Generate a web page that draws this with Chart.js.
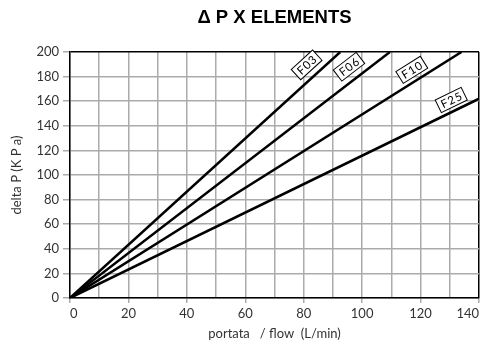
<!DOCTYPE html>
<html>
<head>
<meta charset="utf-8">
<script src="https://cdn.jsdelivr.net/npm/chart.js@4.4.0/dist/chart.umd.min.js"></script>
<style>
    html, body { margin: 0; padding: 0; background: #fff; }
</style>
</head>
<body>
<canvas id="dpChart" width="482" height="346"></canvas>
<script>
const seriesNames = ['F03', 'F06', 'F10', 'F25'];
const flowF03 = [0, 92.5];
const dpF03 = [0, 200];
const flowF06 = [0, 109.5];
const dpF06 = [0, 200];
const flowF10 = [0, 134];
const dpF10 = [0, 200];
const flowF25 = [0, 140];
const dpF25 = [0, 162];
const xTickLabels = [0, 20, 40, 60, 80, 100, 120, 140];
const yTickLabels = [0, 20, 40, 60, 80, 100, 120, 140, 160, 180, 200];

// Punti di ancoraggio delle etichette (in unità dei dati)
const labelFlow = [81, 95.5, 117, 130.5];
const labelDp = [189.5, 188, 185.5, 161];

const flows = [flowF03, flowF06, flowF10, flowF25];
const dps = [dpF03, dpF06, dpF10, dpF25];

function toPoints(xs, ys) {
    return xs.map((x, i) => ({ x: x, y: ys[i] }));
}

const FONT = "Lato, 'Open Sans', sans-serif";
const TEXT = '#333';
const GRID = '#ababab';

// Titolo centrato sull'area del grafico
const titlePlugin = {
    id: 'centerTitle',
    afterDraw(chart) {
        const { ctx, chartArea } = chart;
        ctx.save();
        ctx.font = "bold 18.5px 'Liberation Sans', Arial, sans-serif";
        ctx.fillStyle = '#000';
        ctx.textAlign = 'center';
        ctx.textBaseline = 'middle';
        ctx.fillText('Δ P X ELEMENTS', (chartArea.left + chartArea.right) / 2, 18);
        ctx.restore();
    }
};

// Etichette F03/F06/... in riquadri ruotati lungo le linee
const lineLabels = {
    id: 'lineLabels',
    afterDatasetsDraw(chart) {
        const { ctx } = chart;
        const xs = chart.scales.x, ys = chart.scales.y;
        ctx.save();
        ctx.font = '11.5px ' + FONT;
        if ('letterSpacing' in ctx) ctx.letterSpacing = '1px';
        seriesNames.forEach((name, i) => {
            const x0 = xs.getPixelForValue(flows[i][0]), y0 = ys.getPixelForValue(dps[i][0]);
            const x1 = xs.getPixelForValue(flows[i][1]), y1 = ys.getPixelForValue(dps[i][1]);
            const angle = Math.atan2(y1 - y0, x1 - x0);
            const cx = xs.getPixelForValue(labelFlow[i]);
            const cy = ys.getPixelForValue(labelDp[i]);
            const w = ctx.measureText(name).width + 6;
            const h = 14;
            ctx.save();
            ctx.translate(cx, cy);
            ctx.rotate(angle);
            ctx.fillStyle = '#fff';
            ctx.fillRect(-w / 2, -h / 2, w, h);
            ctx.strokeStyle = '#000';
            ctx.lineWidth = 1;
            ctx.strokeRect(-w / 2, -h / 2, w, h);
            ctx.fillStyle = '#000';
            ctx.textAlign = 'center';
            ctx.textBaseline = 'middle';
            ctx.fillText(name, 0.5, 0.5);
            ctx.restore();
        });
        ctx.restore();
    }
};

const ctx = document.getElementById('dpChart').getContext('2d');
const chart = new Chart(ctx, {
    type: 'scatter',
    data: {
        datasets: seriesNames.map((name, i) => ({
            label: name,
            data: toPoints(flows[i], dps[i]),
            showLine: true,
            borderColor: '#000',
            borderWidth: 2.5,
            pointRadius: 0,
            fill: false
        }))
    },
    options: {
        responsive: false,
        animation: false,
        layout: { padding: { top: 52, right: 2, left: 0, bottom: 0 } },
        plugins: {
            legend: { display: false },
            tooltip: { enabled: false },
            title: { display: false }
        },
        scales: {
            x: {
                type: 'linear',
                min: 0,
                max: 140,
                afterFit: scale => { scale.height = 48; },
                ticks: {
                    stepSize: 10,
                    align: 'inner',
                    padding: 3,
                    color: TEXT,
                    font: { family: FONT, size: 13 },
                    maxRotation: 0,
                    callback: v => xTickLabels.includes(v) ? String(v) : ''
                },
                grid: {
                    color: c => c.tick && c.tick.value === 140 ? '#000' : GRID,
                    lineWidth: 1.5,
                    tickLength: 5,
                    tickColor: c => c.tick && xTickLabels.includes(c.tick.value) ? GRID : 'rgba(0,0,0,0)'
                },
                border: { display: true, color: '#000', width: 1.5 },
                title: {
                    display: true,
                    text: 'portata   / flow  (L/min)',
                    color: TEXT,
                    font: { family: FONT, size: 13 },
                    padding: { top: 0, bottom: 4 }
                }
            },
            y: {
                min: 0,
                max: 200,
                afterFit: scale => { scale.width = 70; },
                ticks: {
                    stepSize: 10,
                    padding: 4,
                    color: TEXT,
                    font: { family: FONT, size: 13 },
                    callback: v => yTickLabels.includes(v) ? String(v) : ''
                },
                grid: {
                    color: c => c.tick && c.tick.value === 200 ? '#000' : GRID,
                    lineWidth: 1.5,
                    tickLength: 7,
                    tickColor: c => c.tick && yTickLabels.includes(c.tick.value) ? GRID : 'rgba(0,0,0,0)'
                },
                border: { display: true, color: '#000', width: 1.5 },
                title: {
                    display: true,
                    text: 'delta P (K P a)',
                    color: TEXT,
                    font: { family: FONT, size: 13 },
                    padding: { top: 9, bottom: 0 }
                }
            }
        }
    },
    plugins: [lineLabels, titlePlugin]
});
</script>
</body>
</html>
